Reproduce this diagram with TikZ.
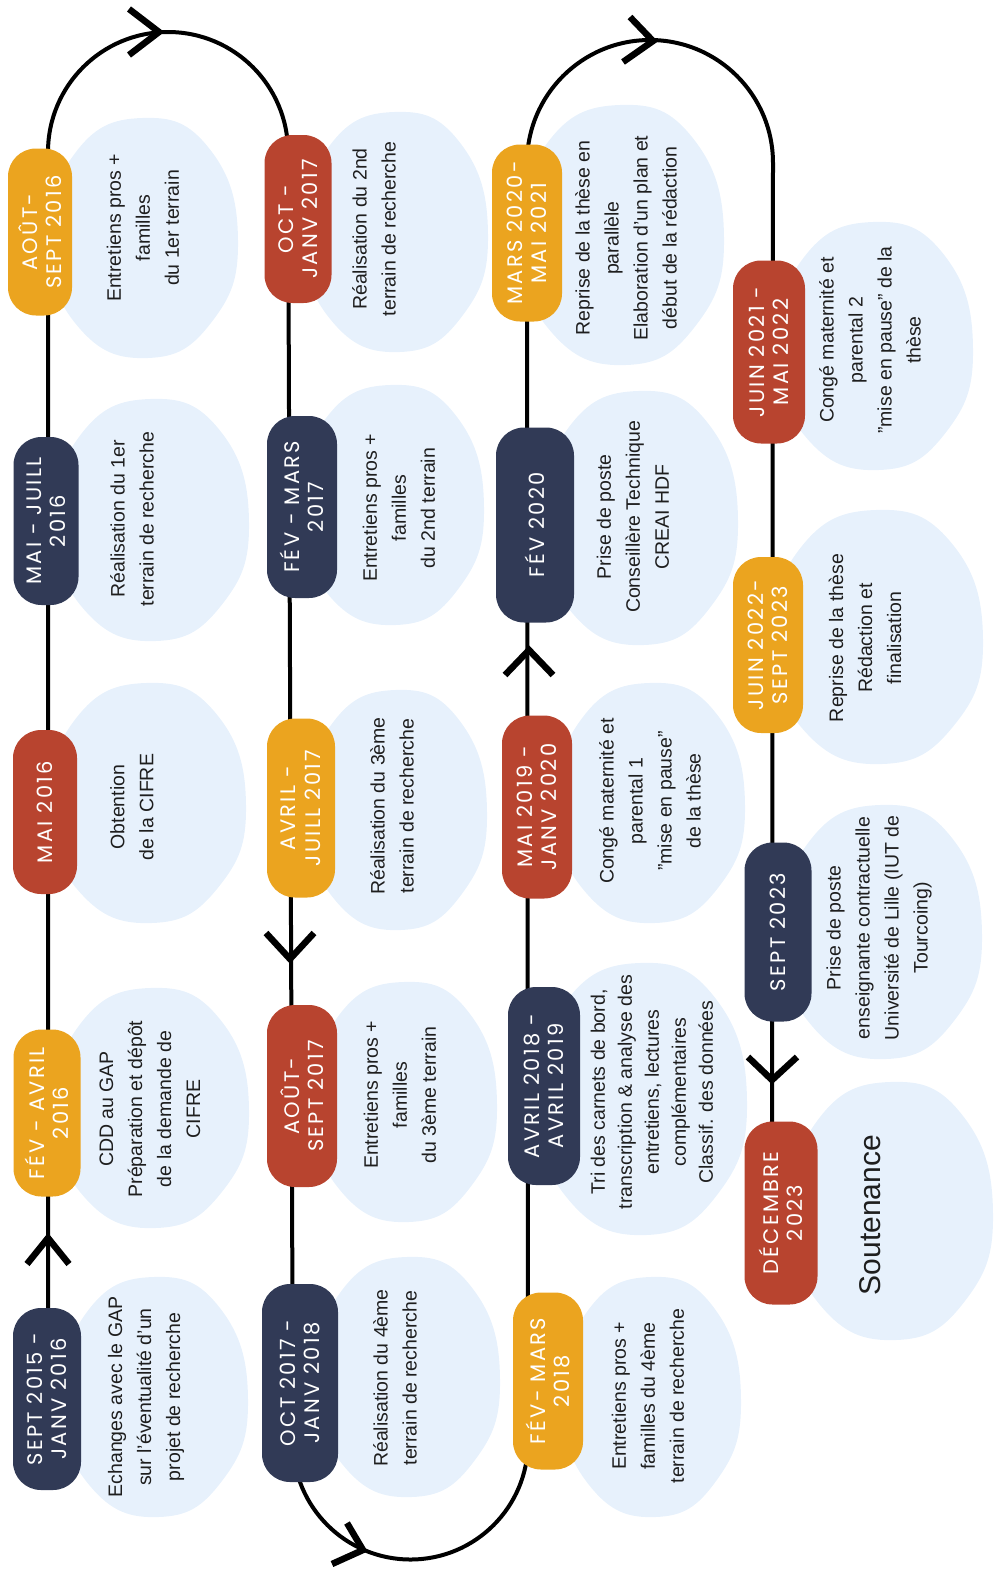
\documentclass[tikz,border=0pt]{standalone}
\usepackage{fontspec}
\setmainfont{Liberation Sans}
\newfontfamily\pillfont{Poppins}[LetterSpace=11]
\definecolor{navyc}{HTML}{313A56}
\definecolor{orangec}{HTML}{EBA41F}
\definecolor{redc}{HTML}{B8442F}
\definecolor{blobc}{HTML}{E7F1FC}
\definecolor{txtc}{HTML}{1E1E1E}
\newcommand\blobshape[4]{%
  \fill[blobc] plot[smooth cycle,tension=0.8] coordinates {
    ({#1+#3},{#2+0.02*#4}) ({#1+0.72*#3},{#2+0.70*#4}) ({#1+0.04*#3},{#2+1.0*#4})
    ({#1-0.70*#3},{#2+0.74*#4}) ({#1-1.0*#3},{#2+0.04*#4}) ({#1-0.74*#3},{#2-0.70*#4})
    ({#1-0.02*#3},{#2-1.0*#4}) ({#1+0.70*#3},{#2-0.74*#4})};}
\newcommand\pillnode[7]{%
  \node[pill, fill=#6, minimum width=#5pt, minimum height=#4pt] (#1) at (#2,#3) {#7};}
\begin{document}
\begin{tikzpicture}[x=1pt,y=-1pt,
  tl/.style={line width=4pt},
  chev/.style={line width=6.5pt, line join=miter, line cap=butt},
  pill/.style={rectangle, rounded corners=28pt, rotate=90, text=white, align=center,
    inner sep=0pt, font=\pillfont\fontsize{21}{24.5}\selectfont},
  btxt/.style={rotate=90, align=center, inner sep=0pt, text=txtc,
    font=\fontsize{19.5}{29}\selectfont}]
\useasboundingbox (0,0) rectangle (995,1569);

% timeline path
\coordinate (c1s) at (48,1399);
\coordinate (c1e) at (48,152);
\coordinate (c2e) at (293,1442);
\coordinate (c3e) at (527,163);
\coordinate (c4e) at (772,1213);
\draw[tl] (c1s) -- (c1e) arc[start angle=180,end angle=360,radius=120]
  -- (c2e) arc[start angle=180,end angle=0,radius=117.5]
  -- (c3e) arc[start angle=180,end angle=360,radius=123] -- (c4e);

% chevrons
\draw[chev] (129,9) -- (159,32) -- (129,55);
\draw[chev] (27,1264) -- (48,1238) -- (69,1264);
\draw[chev] (266,933) -- (290,959) -- (314,933);
\draw[chev] (347,1523) -- (363,1550) -- (332,1564);
\draw[chev] (505,675) -- (529,650) -- (553,675);
\draw[chev] (630,17) -- (653,41) -- (623,62);
\draw[chev] (748,1057) -- (772,1080) -- (797,1057);

% blobs
\blobshape{155}{1397}{93}{120}
\blobshape{152}{1108}{97}{120}
\blobshape{148}{803}{98}{120}
\blobshape{152}{520}{97}{121}
\blobshape{144}{238}{94}{120}
\blobshape{396}{232}{92}{120}
\blobshape{392}{505}{92}{120}
\blobshape{397}{810}{90}{120}
\blobshape{405}{1102}{92}{120}
\blobshape{408}{1377}{92}{120}
\blobshape{652}{1397}{89}{120}
\blobshape{642}{1099}{105}{136}
\blobshape{651}{803}{94}{120}
\blobshape{640}{518}{98}{127}
\blobshape{622}{235}{102}{130}
\blobshape{875}{346}{98}{124}
\blobshape{878}{637}{105}{127}
\blobshape{882}{932}{100}{127}
\blobshape{892}{1211}{101}{129}

% pills
\pillnode{p1}{47}{1399}{68}{182}{navyc}{SEPT 2015 -\\JANV 2016}
\pillnode{p2}{47}{1113}{67}{167}{orangec}{FÉV - AVRIL\\2016}
\pillnode{p3}{45}{812}{64}{164}{redc}{MAI 2016}
\pillnode{p4}{46}{521}{65}{168}{navyc}{MAI - JUILL\\2016}
\pillnode{p5}{40}{232}{64}{167}{orangec}{AOÛT-\\SEPT 2016}
\pillnode{p6}{298}{219}{67}{168}{redc}{OCT -\\JANV 2017}
\pillnode{p7}{302}{507}{70}{182}{navyc}{FÉV - MARS\\2017}
\pillnode{p8}{301}{808}{68}{179}{orangec}{AVRIL -\\JUILL 2017}
\pillnode{p9}{302}{1096}{70}{182}{redc}{AOÛT-\\SEPT 2017}
\pillnode{p10}{300}{1383}{76}{198}{navyc}{OCT 2017 -\\JANV 2018}
\pillnode{p11}{548}{1381}{70}{177}{orangec}{FÉV- MARS\\2018}
\pillnode{p12}{544}{1086}{72}{198}{navyc}{AVRIL 2018 -\\AVRIL 2019}
\pillnode{p13}{537}{807}{70}{183}{redc}{MAI 2019 -\\JANV 2020}
\pillnode{p14}{535}{525}{78}{195}{navyc}{FÉV 2020}
\pillnode{p15}{527}{233}{70}{177}{orangec}{MARS 2020-\\MAI 2021}
\pillnode{p16}{769}{352}{72}{183}{redc}{JUIN 2021 -\\MAI 2022}
\pillnode{p17}{768}{645}{70}{176}{orangec}{JUIN 2022-\\SEPT 2023}
\pillnode{p18}{778}{932}{67}{179}{navyc}{SEPT 2023}
\pillnode{p19}{781}{1213}{73}{183}{redc}{DÉCEMBRE\\2023}

% texts
\node[btxt] (t1) at (146,1397) {Echanges avec le GAP\\sur l'éventualité d'un\\projet de recherche};
\node[btxt] (t2) at (150,1109) {CDD au GAP\\Préparation et dépôt\\de la demande de\\CIFRE};
\node[btxt] (t3) at (132,807) {Obtention\\de la CIFRE};
\node[btxt] (t4) at (132,519) {Réalisation du 1er\\terrain de recherche};
\node[btxt] (t5) at (143,228) {Entretiens pros +\\familles\\du 1er terrain};
\node[btxt] (t6) at (374,229) {Réalisation du 2nd\\terrain de recherche};
\node[btxt] (t7) at (399,508) {Entretiens pros +\\familles\\du 2nd terrain};
\node[btxt] (t8) at (392,806) {Réalisation du 3ème\\terrain de recherche};
\node[btxt] (t9) at (400,1095) {Entretiens pros +\\familles\\du 3ème terrain};
\node[btxt] (t10) at (395,1378) {Réalisation du 4ème\\terrain de recherche};
\node[btxt] (t11) at (648,1396) {Entretiens pros +\\familles du 4ème\\terrain de recherche};
\node[btxt, font=\fontsize{19.5}{27}\selectfont] (t12) at (652,1092) {Tri des carnets de bord,\\transcription \& analyse des\\entretiens, lectures\\complémentaires\\Classif. des données};
\node[btxt] (t13) at (650,801) {Congé maternité et\\parental 1\\"mise en pause"\\de la thèse};
\node[btxt] (t14) at (633,517) {Prise de poste\\Conseillère Technique\\CREAI HDF};
\node[btxt] (t15) at (626,238) {Reprise de la thèse en\\parallèle\\Elaboration d'un plan et\\début de la rédaction};
\node[btxt] (t16) at (870,340) {Congé maternité et\\parental 2\\"mise en pause" de la\\thèse};
\node[btxt] (t17) at (865,638) {Reprise de la thèse\\Rédaction et\\finalisation};
\node[btxt] (t18) at (879,928) {Prise de poste\\enseignante contractuelle\\Université de Lille (IUT de\\Tourcoing)};
\node[btxt, font=\fontsize{30}{34}\selectfont] (t19) at (870,1215) {Soutenance};
\end{tikzpicture}
\end{document}
